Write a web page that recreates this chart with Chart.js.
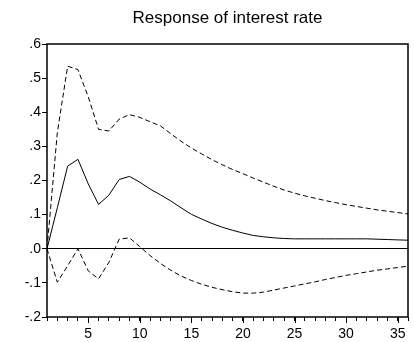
<!DOCTYPE html>
<html>
<head>
<meta charset="utf-8">
<script src="https://cdn.jsdelivr.net/npm/chart.js@4/dist/chart.umd.min.js"></script>
<style>
html,body{margin:0;padding:0;background:#fff;}
#wrap{width:414px;height:342px;position:relative;}
</style>
</head>
<body>
<div id="wrap"><canvas id="c" width="414" height="342"></canvas></div>
<script>
const titleText = "Response of interest rate";
const periods = [1,2,3,4,5,6,7,8,9,10,11,12,13,14,15,16,17,18,19,20,21,22,23,24,25,26,27,28,29,30,31,32,33,34,35,36];
const response = [0.0,0.12,0.242,0.262,0.19,0.13,0.157,0.203,0.212,0.195,0.175,0.158,0.14,0.12,0.101,0.087,0.074,0.063,0.054,0.046,0.039,0.035,0.032,0.030,0.029,0.029,0.029,0.029,0.029,0.029,0.029,0.029,0.028,0.027,0.026,0.025];
const upperBand = [0.0,0.34,0.535,0.525,0.445,0.35,0.345,0.38,0.393,0.385,0.372,0.36,0.337,0.315,0.295,0.278,0.261,0.246,0.232,0.22,0.207,0.195,0.183,0.172,0.163,0.155,0.148,0.141,0.135,0.129,0.124,0.119,0.114,0.110,0.106,0.102];
const lowerBand = [0.0,-0.098,-0.05,0.0,-0.065,-0.088,-0.04,0.028,0.032,0.006,-0.02,-0.043,-0.063,-0.08,-0.093,-0.104,-0.113,-0.12,-0.126,-0.13,-0.13,-0.127,-0.121,-0.115,-0.109,-0.103,-0.097,-0.09,-0.084,-0.078,-0.073,-0.068,-0.063,-0.059,-0.055,-0.051];
const yTicks = [-0.2,-0.1,0.0,0.1,0.2,0.3,0.4,0.5,0.6];
const xLabelEvery = 5;

const FONT = "'Liberation Sans', Arial, sans-serif";

function fmtY(v){
  const r = Math.round(v*10)/10;
  if (Math.abs(r) < 1e-9) return ".0";
  const s = Math.abs(r).toFixed(1).replace(/^0/, "");
  return (r < 0 ? "-" : "") + s;
}
function pts(arr){ return periods.map((p,i)=>({x:p, y:arr[i]})); }

const framePlugin = {
  id: 'frame',
  afterDraw(chart){
    const a = chart.chartArea, ctx = chart.ctx;
    ctx.save();
    ctx.strokeStyle = '#000';
    ctx.lineWidth = 1.5;
    ctx.strokeRect(a.left, a.top, a.right - a.left, a.bottom - a.top);
    const xs = chart.scales.x;
    ctx.lineWidth = 1;
    ctx.beginPath();
    periods.forEach(p=>{
      if (p % xLabelEvery === 0){
        const px = Math.round(xs.getPixelForValue(p)) + 0.5;
        ctx.moveTo(px, a.bottom);
        ctx.lineTo(px, a.bottom + 6);
      }
    });
    ctx.stroke();
    // title centred over the plot area
    ctx.fillStyle = '#000';
    ctx.font = "17px " + FONT;
    ctx.textAlign = 'center';
    ctx.textBaseline = 'alphabetic';
    ctx.fillText(titleText, (a.left + a.right) / 2, 23);
    ctx.restore();
  }
};

new Chart(document.getElementById('c'), {
  type: 'line',
  data: {
    datasets: [
      {data: pts(upperBand), borderColor:'#000', borderWidth:1, borderDash:[5,3], pointRadius:0, tension:0, fill:false},
      {data: pts(response), borderColor:'#000', borderWidth:1, pointRadius:0, tension:0, fill:false},
      {data: pts(lowerBand), borderColor:'#000', borderWidth:1, borderDash:[5,3], pointRadius:0, tension:0, fill:false}
    ]
  },
  options: {
    responsive: false,
    animation: false,
    layout: {padding: {left: 0, right: 6, top: 44, bottom: 0}},
    plugins: {
      legend: {display:false},
      tooltip: {enabled:false},
      title: {display:false}
    },
    scales: {
      x: {
        type:'linear', min:1, max:36,
        afterBuildTicks(scale){ scale.ticks = periods.map(p=>({value:p})); },
        afterFit(scale){ scale.height = 25; },
        border: {display:false},
        grid: {drawOnChartArea:false, drawTicks:true, tickLength:4, tickColor:'#000', color:'#000'},
        ticks: {autoSkip:false, maxRotation:0, color:'#000', padding:5, font:{family:FONT, size:14},
          callback:(v)=> (v % xLabelEvery === 0 ? String(v) : '')}
      },
      y: {
        min:-0.2, max:0.6,
        afterBuildTicks(scale){ scale.ticks = yTicks.map(v=>({value:v})); },
        afterFit(scale){ scale.width = 47; },
        border: {display:false},
        grid: {drawOnChartArea:true, drawTicks:true, tickLength:5, tickColor:'#000',
          color:(c)=> (c.tick && Math.abs(c.tick.value) < 1e-9 ? '#000' : 'rgba(0,0,0,0)'), lineWidth:1},
        ticks: {color:'#000', padding:1, font:{family:FONT, size:14}, callback:(v)=>fmtY(v)}
      }
    }
  },
  plugins: [framePlugin]
});
</script>
</body>
</html>
